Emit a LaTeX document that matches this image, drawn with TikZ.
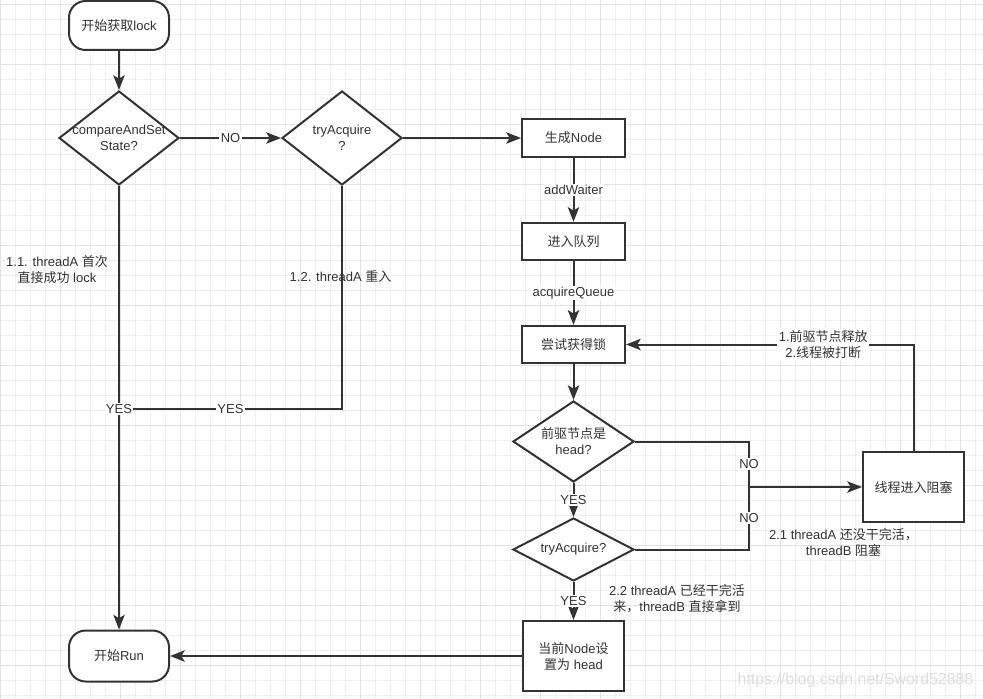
\documentclass[tikz,border=0pt]{standalone}
\usepackage{fontspec}
\usetikzlibrary{arrows.meta,shapes.geometric}
\setmainfont{Liberation Sans}
\newfontfamily\cjkfont{Noto Sans CJK SC}
\XeTeXinterchartokenstate=1
\newXeTeXintercharclass\CJKcls
\newcount\cjkcnt
\cjkcnt="4E00
\loop
  \XeTeXcharclass\cjkcnt=\CJKcls
  \ifnum\cjkcnt<"9FFF \advance\cjkcnt by 1 \repeat
\XeTeXcharclass"FF0C=\CJKcls
\XeTeXcharclass"3001=\CJKcls
\XeTeXinterchartoks 0 \CJKcls = {\cjkfont}
\XeTeXinterchartoks 4095 \CJKcls = {\cjkfont}
\XeTeXinterchartoks \CJKcls 0 = {\normalfont}
\XeTeXinterchartoks \CJKcls 4095 = {\normalfont}
\definecolor{lncol}{HTML}{333333}
\definecolor{txcol}{HTML}{333333}
\definecolor{gridminor}{HTML}{EFEFEF}
\definecolor{gridmajor}{HTML}{E2E2E2}
\newcommand{\fsz}{\fontsize{9.75pt}{12pt}\selectfont}
\tikzset{
  base/.style={draw=lncol, line width=1.5pt, font=\fsz, text=txcol, fill=white},
  term/.style={base, rectangle, rounded corners=12.5pt, minimum width=75pt, inner sep=0pt},
  proc/.style={base, rectangle, inner sep=0pt, align=center},
  dia/.style={base, diamond, inner sep=0pt},
  elabel/.style={fill=white, inner sep=1pt, font=\fsz, text=txcol, align=center},
  note/.style={font=\fsz, text=txcol, align=center, inner sep=0pt},
  lnst/.style={draw=lncol, line width=1.5pt},
  arr/.style={lnst, -{Stealth[length=11pt,width=8.5pt,inset=2.5pt]}}
}
\begin{document}
\begin{tikzpicture}[x=0.75pt,y=-0.75pt]
\useasboundingbox (0,0) rectangle (983,699);
\fill[white] (0,0) rectangle (983,699);
% grid
\foreach \x in {0,15,...,975} \draw[gridminor, line width=0.75pt] (\x,0) -- (\x,699);
\foreach \y in {5,20,...,695} \draw[gridminor, line width=0.75pt] (0,\y) -- (983,\y);
\foreach \x in {0,60,...,960} \draw[gridmajor, line width=0.75pt] (\x,0) -- (\x,699);
\foreach \y in {5,65,...,665} \draw[gridmajor, line width=0.75pt] (0,\y) -- (983,\y);

% nodes
\node[term, minimum height=36.75pt] (start) at (119,25.5) {开始获取lock};
\node[dia, minimum width=90pt, minimum height=70.5pt,
      label={[note]center:compareAndSet\\State?}] (d1) at (119,138) {};
\node[dia, minimum width=90pt, minimum height=70.5pt,
      label={[note]center:tryAcquire\\?}] (d2) at (342,138) {};
\node[proc, minimum width=77.25pt, minimum height=28.5pt] (gen) at (573.5,138) {生成Node};
\node[proc, minimum width=77.25pt, minimum height=28pt] (queue) at (573.5,241.5) {进入队列};
\node[proc, minimum width=77.25pt, minimum height=28pt] (try) at (573.5,344.5) {尝试获得锁};
\node[dia, minimum width=90.75pt, minimum height=60.75pt,
      label={[note]center:前驱节点是\\head?}] (d3) at (573.5,441.5) {};
\node[dia, minimum width=90.75pt, minimum height=47.25pt,
      label={[note]center:tryAcquire?}] (d4) at (573.5,549.5) {};
\node[proc, minimum width=75.75pt, minimum height=52.5pt] (sethead) at (573.5,656) {当前Node设\\置为 head};
\node[proc, minimum width=75.75pt, minimum height=52.5pt] (block) at (913.5,487) {线程进入阻塞};
\node[term, minimum height=38.25pt] (run) at (119,656) {开始Run};

\coordinate (j) at (119,409);
\coordinate (m) at (749,487);

% connectors
\draw[arr] (start) -- (d1);
\draw[arr] (d1) -- node[elabel]{NO} (d2);
\draw[arr] (d2) -- (gen);
\draw[arr] (gen) -- node[elabel]{addWaiter} (queue);
\draw[arr] (queue) -- node[elabel]{acquireQueue} (try);
\draw[arr] (try) -- (d3);
\draw[arr] (d3) -- node[elabel]{YES} (d4);
\draw[arr] (d4) -- node[elabel]{YES} (sethead);
\draw[arr] (sethead) -- (run);
\draw[lnst] (d2.south) |- node[elabel, pos=0.75]{YES} (j);
\draw[arr] (d1) -- node[elabel, pos=0.503]{YES} (run);
\draw[lnst] (d3.east) -| node[elabel, pos=0.75]{NO} (m);
\draw[lnst] (d4.east) -| node[elabel, pos=0.75]{NO} (m);
\draw[arr] (m) -- (block.west);
\draw[arr] (block.north) |- node[elabel, pos=0.657]{1.前驱节点释放\\2.线程被打断} (try.east);

% notes
\node[note] (n11) at (57,270) {1.1. threadA 首次\\直接成功 lock};
\node[note] (n12) at (340.5,277) {1.2. threadA 重入};
\node[note] (n21) at (843.5,542.5) {2.1 threadA 还没干完活，\\threadB 阻塞};
\node[note] (n22) at (677,599) {2.2 threadA 已经干完活\\来，threadB 直接拿到};
\node[font=\fontsize{11.9pt}{14pt}\selectfont, text=black!13, inner sep=0pt] (wm) at (855.5,680) {https://blog.csdn.net/Sword52888};
\end{tikzpicture}
\end{document}
